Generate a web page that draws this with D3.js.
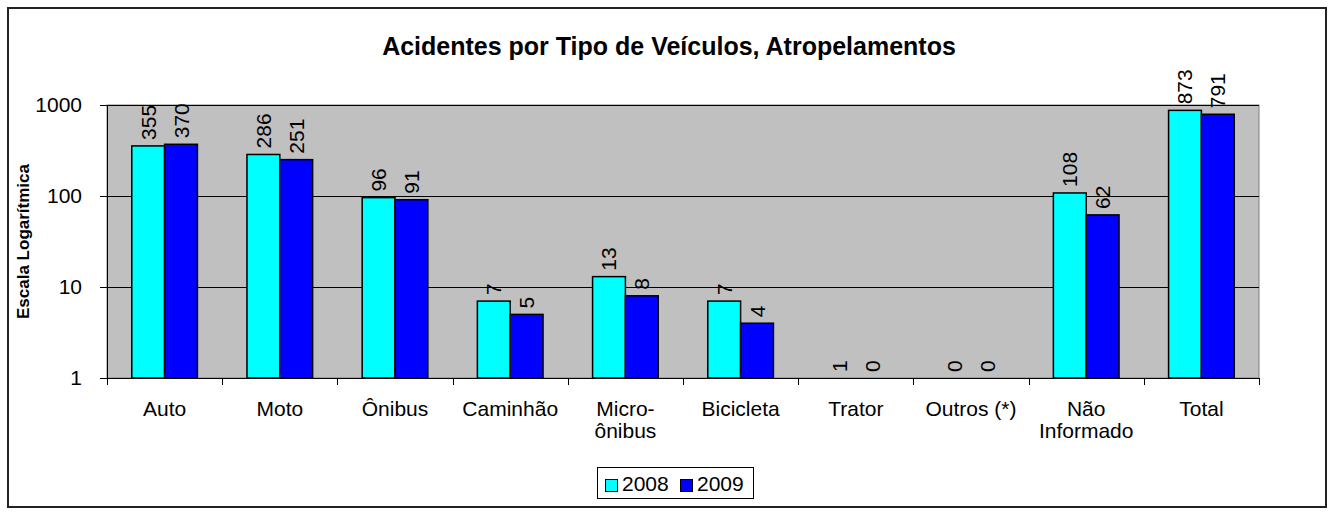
<!DOCTYPE html>
<html>
<head>
<meta charset="utf-8">
<script src="https://cdn.jsdelivr.net/npm/d3@7"></script>
<style>
body { margin: 0; background: #fff; }
text { font-family: "Liberation Sans", Arial, sans-serif; }
</style>
</head>
<body>
<svg width="1330" height="514"></svg>
<script>
// data
var categories = ["Auto", "Moto", "Ônibus", "Caminhão", "Micro-\nônibus", "Bicicleta", "Trator", "Outros (*)", "Não\nInformado", "Total"];
var years = ["2008", "2009"];
var values2008 = [355, 286, 96, 7, 13, 7, 1, 0, 108, 873];
var values2009 = [370, 251, 91, 5, 8, 4, 0, 0, 62, 791];
var yTicks = [1, 10, 100, 1000];
var colors = ["#00FFFF", "#0000FF"];

var svg = d3.select("svg");
var margin = {left: 107, right: 1259, top: 105, bottom: 378};

// outer frame
svg.append("rect")
    .attr("x", 8).attr("y", 8)
    .attr("width", 1318).attr("height", 499)
    .attr("fill", "#fff").attr("stroke", "#222").attr("stroke-width", 2);

svg.append("text")
    .attr("x", 669).attr("y", 55)
    .attr("text-anchor", "middle")
    .attr("font-weight", "bold").attr("font-size", 25)
    .text("Acidentes por Tipo de Veículos, Atropelamentos");

var x = d3.scaleBand().domain(categories).range([margin.left, margin.right]).paddingInner(0.43).paddingOuter(0.215);
var xs = d3.scaleBand().domain(years).range([0, x.bandwidth()]);
var y = d3.scaleLog().domain([1, 1000]).range([margin.bottom, margin.top]).clamp(true);

// plot background
svg.append("rect")
    .attr("x", margin.left).attr("y", margin.top)
    .attr("width", margin.right - margin.left).attr("height", margin.bottom - margin.top)
    .attr("fill", "#C0C0C0").attr("stroke", "#808080");

// grid lines
svg.append("g").selectAll("line")
    .data(yTicks.slice(1))
    .enter().append("line")
    .attr("x1", margin.left).attr("x2", margin.right)
    .attr("y1", function(d) { return Math.round(y(d)) + 0.5; })
    .attr("y2", function(d) { return Math.round(y(d)) + 0.5; })
    .attr("stroke", "#000");

// y axis
var yAxis = svg.append("g")
    .attr("transform", "translate(" + margin.left + ",0)")
    .call(d3.axisLeft(y).tickValues(yTicks).tickFormat(d3.format("d")).tickSize(7).tickSizeOuter(0));
yAxis.selectAll("text").attr("font-size", 21).attr("fill", "#000").attr("dx", -15)
    .style("font-family", "Liberation Sans, Arial, sans-serif");
yAxis.selectAll("line, path").attr("stroke", "#000");

// bars
var data = [];
categories.forEach(function(c, i) {
    data.push({cat: c, year: "2008", v: values2008[i]});
    data.push({cat: c, year: "2009", v: values2009[i]});
});

svg.append("g").selectAll("rect")
    .data(data)
    .enter().append("rect")
    .attr("x", function(d) { return x(d.cat) + xs(d.year); })
    .attr("y", function(d) { return y(Math.max(d.v, 1)); })
    .attr("width", xs.bandwidth())
    .attr("height", function(d) { return y(1) - y(Math.max(d.v, 1)); })
    .attr("fill", function(d) { return colors[years.indexOf(d.year)]; })
    .attr("stroke", "#000").attr("stroke-width", 1.5);

// value labels, rotated
svg.append("g").selectAll("text")
    .data(data)
    .enter().append("text")
    .attr("transform", function(d) {
        var cx = x(d.cat) + xs(d.year) + xs.bandwidth() / 2 + 7.5;
        var cy = y(Math.max(d.v, 1)) - 6;
        return "translate(" + cx + "," + cy + ") rotate(-90)";
    })
    .attr("font-size", 21)
    .text(function(d) { return d.v; });

// x axis
var xAxis = svg.append("g")
    .attr("transform", "translate(0," + margin.bottom + ")");
xAxis.append("line")
    .attr("x1", margin.left).attr("x2", margin.right)
    .attr("y1", 0.5).attr("y2", 0.5).attr("stroke", "#000");
var bounds = categories.map(function(c, i) { return margin.left + i * (margin.right - margin.left) / categories.length; });
bounds.push(margin.right);
xAxis.selectAll(".tick")
    .data(bounds)
    .enter().append("line")
    .attr("x1", function(d) { return Math.round(d) + 0.5; })
    .attr("x2", function(d) { return Math.round(d) + 0.5; })
    .attr("y1", 0).attr("y2", 7).attr("stroke", "#000");
var xl = xAxis.selectAll(".xlabel")
    .data(categories)
    .enter().append("text")
    .attr("text-anchor", "middle")
    .attr("font-size", 21)
    .attr("transform", function(d) { return "translate(" + (x(d) + x.bandwidth() / 2) + ",0)"; });
xl.selectAll("tspan")
    .data(function(d) { return d.split("\n"); })
    .enter().append("tspan")
    .attr("x", 0)
    .attr("y", function(d, i) { return 38 + i * 22; })
    .text(function(d) { return d; });

// y axis title
svg.append("text")
    .attr("transform", "translate(29," + ((margin.top + margin.bottom) / 2) + ") rotate(-90)")
    .attr("text-anchor", "middle")
    .attr("font-weight", "bold").attr("font-size", 17)
    .text("Escala Logarítmica");

// legend
var legend = svg.append("g").attr("transform", "translate(597,467)");
legend.append("rect").attr("x", 0.5).attr("y", 0.5).attr("width", 156).attr("height", 31)
    .attr("fill", "#fff").attr("stroke", "#000");
years.forEach(function(yr, i) {
    var lx = 8 + i * 75;
    legend.append("rect").attr("x", lx + 0.5).attr("y", 12.5).attr("width", 12).attr("height", 12)
        .attr("fill", colors[i]).attr("stroke", "#000");
    legend.append("text").attr("x", lx + 17).attr("y", 24).attr("font-size", 21).text(yr);
});
</script>
</body>
</html>
